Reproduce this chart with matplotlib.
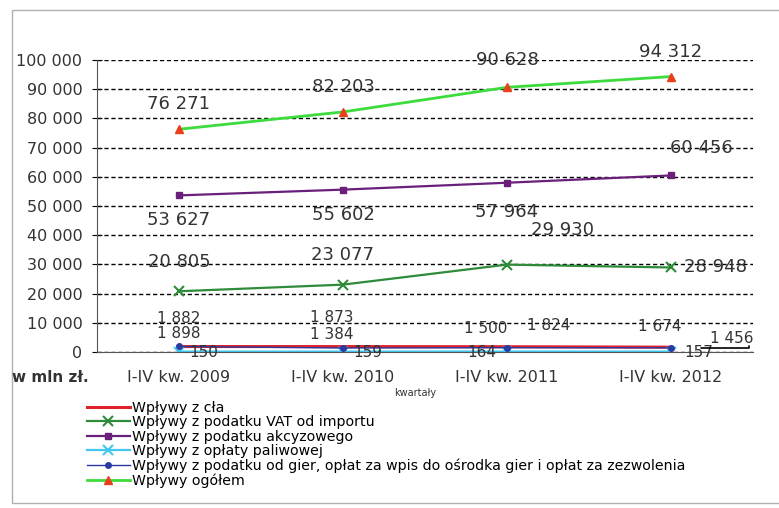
import matplotlib.pyplot as plt
from matplotlib.patches import Rectangle
from matplotlib.ticker import FuncFormatter

plt.rcParams['font.family'] = ['DejaVu Sans']

# Dane: wpływy w mln zł za kolejne lata
okresy = ['I-IV kw. 2009', 'I-IV kw. 2010', 'I-IV kw. 2011', 'I-IV kw. 2012']
clo = [1882, 1873, 1824, 1674]
vat_import = [20805, 23077, 29930, 28948]
akcyza = [53627, 55602, 57964, 60456]
oplata = [150, 159, 164, 157]
gry = [1898, 1384, 1500, 1456]
ogolem = [76271, 82203, 90628, 94312]

nazwy = [
    'Wpływy z cła',
    'Wpływy z podatku VAT od importu',
    'Wpływy z podatku akcyzowego',
    'Wpływy z opłaty paliwowej',
    'Wpływy z podatku od gier, opłat za wpis do ośrodka gier i opłat za zezwolenia',
    'Wpływy ogółem',
]

fig = plt.figure(figsize=(7.79, 5.08), dpi=100)
ax = fig.add_axes([0.1245, 0.307, 0.842, 0.575])

# ramka wokół wykresu
fig.patches.append(Rectangle((12 / 779, 0.01), 1.0, 0.97, transform=fig.transFigure,
                             fill=False, edgecolor='#b0b0b0', linewidth=1.0))

x = range(len(okresy))
ax.plot(x, clo, color='#e0202a', linewidth=2.2, label=nazwy[0])
ax.plot(x, vat_import, color='#2e8b3a', linewidth=1.6, marker='x', markersize=7,
        markeredgewidth=1.5, label=nazwy[1])
ax.plot(x, akcyza, color='#6a1f7a', linewidth=1.6, marker='s', markersize=5, label=nazwy[2])
ax.plot(x, oplata, color='#40c8f0', linewidth=1.6, marker='x', markersize=7,
        markeredgewidth=1.5, label=nazwy[3])
ax.plot(x, gry, color='#2a3aa0', linewidth=1.0, marker='o', markersize=4, label=nazwy[4])
ax.plot(x, ogolem, color='#3ddc3d', linewidth=2.0, marker='^', markersize=6,
        markerfacecolor='#e8401a', markeredgecolor='#e8401a', label=nazwy[5])

ax.set_xlim(-0.5, 3.5)
ax.set_ylim(0, 100000)
ax.set_yticks(range(0, 100001, 10000))
ax.yaxis.set_major_formatter(FuncFormatter(lambda v, p: f'{int(v):,}'.replace(',', ' ')))
ax.set_xticks(list(x))
ax.set_xticklabels(okresy, fontsize=11.5, color='#333333')
ax.tick_params(axis='y', labelsize=11.5, labelcolor='#333333', direction='inout',
               length=7, pad=7)
ax.tick_params(axis='x', length=0, pad=13)
ax.grid(axis='y', color='black', linestyle=(0, (3, 2)), linewidth=1.0)
ax.set_axisbelow(True)
for s in ['top', 'right']:
    ax.spines[s].set_visible(False)
ax.spines['left'].set_color('#555555')
ax.spines['bottom'].set_color('#555555')


def fmt(v):
    return f'{v:,}'.replace(',', ' ')


def podpisz(wartosci, przesuniecia, rozmiar=13, pomin=()):
    for i, (v, d) in enumerate(zip(wartosci, przesuniecia)):
        if i in pomin:
            continue
        ax.annotate(fmt(v), (i, v), xytext=d, textcoords='offset points',
                    ha='center', va='center', fontsize=rozmiar, color='#333333')


podpisz(ogolem, [(0, 18), (0, 18), (0, 20), (0, 18)])
podpisz(akcyza, [(0, -18), (0, -18), (0, -21), (22, 20)])
podpisz(vat_import, [(0, 21), (0, 21), (40, 25), (32, 0)])
podpisz(clo, [(0, 20), (-8, 21), (30, 15), (-8, 15)], rozmiar=11)
podpisz(gry, [(0, 9), (-8, 10), (-15, 14)], rozmiar=11)
podpisz(oplata, [(18, -1), (18, -1), (-18, -1), (20, -1)], rozmiar=11)

# ostatnia etykieta z linią odniesienia
ax.annotate(fmt(gry[3]), (3, gry[3]), xytext=(44, 7), textcoords='offset points',
            ha='center', va='center', fontsize=11, color='#333333', annotation_clip=False,
            arrowprops=dict(arrowstyle='-', color='black', lw=1.2, shrinkA=0, shrinkB=22,
                            patchA=None, relpos=(0.9, 0),
                            connectionstyle='angle,angleA=90,angleB=0,rad=0'))

fig.text(12 / 779, 1 - 378 / 508, 'w mln zł.', fontsize=11, fontweight='bold',
         color='#333333', va='center')
fig.text(415 / 779, 1 - 393 / 508, 'kwartały', fontsize=7, color='#333333',
         ha='center', va='center')

ax.legend(loc='upper left', bbox_to_anchor=(80 / 779, 1 - 394 / 508),
          bbox_transform=fig.transFigure, frameon=False, fontsize=10.2,
          handlelength=3.0, handletextpad=0.2, labelspacing=0.02, borderpad=0)

fig.savefig('out.png', dpi=100)
